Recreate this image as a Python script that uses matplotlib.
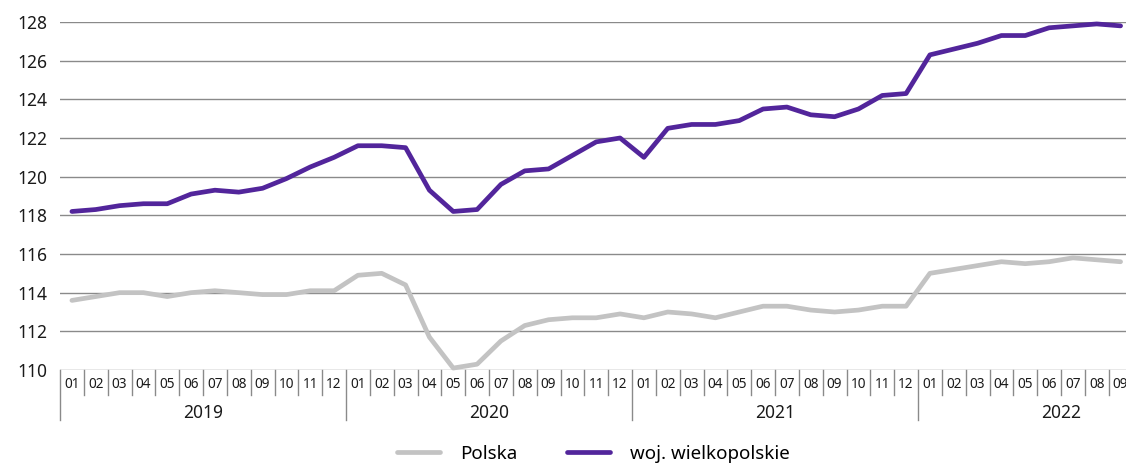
import matplotlib
matplotlib.use("Agg")
import matplotlib.pyplot as plt
import matplotlib.transforms as mtransforms

plt.rcParams['font.family'] = ['Noto Sans', 'DejaVu Sans']

years = ["2019", "2020", "2021", "2022"]
months_per_year = [12, 12, 12, 9]
month_labels = [f"{m:02d}" for n in months_per_year for m in range(1, n + 1)]

polska = [113.6, 113.8, 114.0, 114.0, 113.8, 114.0, 114.1, 114.0, 113.9, 113.9, 114.1, 114.1,
          114.9, 115.0, 114.4, 111.7, 110.1, 110.3, 111.5, 112.3, 112.6, 112.7, 112.7, 112.9,
          112.7, 113.0, 112.9, 112.7, 113.0, 113.3, 113.3, 113.1, 113.0, 113.1, 113.3, 113.3,
          115.0, 115.2, 115.4, 115.6, 115.5, 115.6, 115.8, 115.7, 115.6]
wielkopolskie = [118.2, 118.3, 118.5, 118.6, 118.6, 119.1, 119.3, 119.2, 119.4, 119.9, 120.5, 121.0,
                 121.6, 121.6, 121.5, 119.3, 118.2, 118.3, 119.6, 120.3, 120.4, 121.1, 121.8, 122.0,
                 121.0, 122.5, 122.7, 122.7, 122.9, 123.5, 123.6, 123.2, 123.1, 123.5, 124.2, 124.3,
                 126.3, 126.6, 126.9, 127.3, 127.3, 127.7, 127.8, 127.9, 127.8]
yticks = list(range(110, 129, 2))

W, H = 1126, 470
fig = plt.figure(figsize=(W / 100, H / 100), dpi=100)
left_px, right_px, bottom_px, top_px = 60, 1132.5, 370, 22
ax = fig.add_axes([left_px / W, (H - bottom_px) / H, (right_px - left_px) / W, (bottom_px - top_px) / H])

n = len(month_labels)
x = [i + 0.5 for i in range(n)]
gray = "#c3c3c3"
purple = "#52259b"
ax.plot(x, polska, color=gray, lw=3.4, solid_capstyle='round', label="Polska", clip_on=False, zorder=3)
ax.plot(x, wielkopolskie, color=purple, lw=3.4, solid_capstyle='round', label="woj. wielkopolskie", clip_on=False, zorder=4)

ax.set_xlim(0, n)
ax.set_ylim(110, 128)
ax.set_yticks(yticks)
ax.set_yticklabels([str(v) for v in yticks], fontsize=12.5, color="#1a1a1a")
ax.tick_params(axis='y', length=0, pad=9)
ax.set_xticks([])
for s in ax.spines.values():
    s.set_visible(False)
for v in yticks:
    ax.axhline(v, color="#8a8a8a", lw=1.0, zorder=1)

trans = mtransforms.blended_transform_factory(ax.transData, ax.transAxes)
h_ax = bottom_px - top_px
m_len = -25 / h_ax
y_len = -50 / h_ax
for i, lab in enumerate(month_labels):
    ax.text(i + 0.5, -15 / h_ax, lab, transform=trans, ha='center', va='center', fontsize=9.8, color="#1a1a1a")
boundaries = [0]
for nm in months_per_year:
    boundaries.append(boundaries[-1] + nm)
year_bounds = set(boundaries)
for b in range(0, n + 1):
    L = y_len if b in year_bounds else m_len
    ax.plot([b, b], [0, L], transform=trans, color="#8a8a8a", lw=1.0, clip_on=False)
for k, yr in enumerate(years):
    start = boundaries[k]
    end = start + 12
    ax.text((start + end) / 2, -43 / h_ax, yr, transform=trans, ha='center', va='center', fontsize=12.5, color="#1a1a1a")

fig.legend(loc='lower center', bbox_to_anchor=(0.527, -0.02), ncol=2, frameon=False,
           fontsize=13.5, handlelength=2.3, columnspacing=2.6, handletextpad=1.1)

fig.savefig("out.png", dpi=100)
